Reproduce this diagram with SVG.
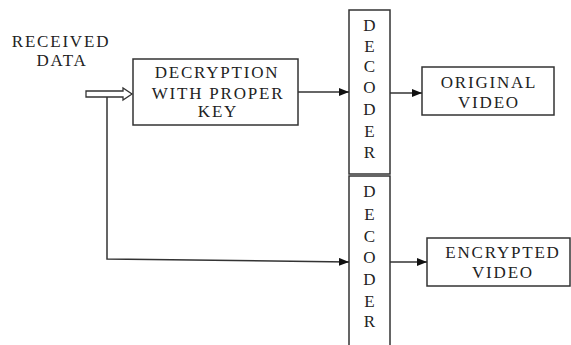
<svg xmlns="http://www.w3.org/2000/svg" width="571" height="345" viewBox="0 0 571 345">
<style>
.box{fill:#fff;stroke:#333;stroke-width:1.5}
.t{font-family:'Liberation Serif','Times New Roman',serif;font-size:17px;letter-spacing:1.8px;fill:#222;text-anchor:middle}
.l{font-family:'Liberation Serif','Times New Roman',serif;font-size:17px;fill:#222;text-anchor:middle}
.ln{fill:none;stroke:#333;stroke-width:1.5}
</style>
<defs>
<marker id="ah" markerWidth="10" markerHeight="8" refX="10" refY="4" orient="auto" markerUnits="userSpaceOnUse">
<path d="M0,0 L10,4 L0,8 Z" fill="#111"/>
</marker>
</defs>
<rect width="571" height="345" fill="#fff"/>
<g id="received-data">
<text class="t" x="61" y="47">RECEIVED</text>
<text class="t" x="62" y="66">DATA</text>
</g>
<g id="decryption">
<rect class="box" x="133" y="59" width="165" height="66"/>
<text class="t" x="217" y="78">DECRYPTION</text>
<text class="t" x="218" y="99">WITH PROPER</text>
<text class="t" x="218" y="117">KEY</text>
</g>
<g id="decoder1">
<rect class="box" x="349" y="10" width="41" height="164"/>
<text class="l" x="369.5" y="31">D</text>
<text class="l" x="369.5" y="52">E</text>
<text class="l" x="369.5" y="72">C</text>
<text class="l" x="369.5" y="93">O</text>
<text class="l" x="369.5" y="115">D</text>
<text class="l" x="369.5" y="137">E</text>
<text class="l" x="369.5" y="158">R</text>
</g>
<g id="decoder2">
<rect class="box" x="349" y="176" width="41" height="175"/>
<text class="l" x="369.5" y="197">D</text>
<text class="l" x="369.5" y="220">E</text>
<text class="l" x="369.5" y="242">C</text>
<text class="l" x="369.5" y="263">O</text>
<text class="l" x="369.5" y="285">D</text>
<text class="l" x="369.5" y="307">E</text>
<text class="l" x="369.5" y="327">R</text>
</g>
<g id="original-video">
<rect class="box" x="422" y="67" width="132" height="48"/>
<text class="t" x="489" y="88">ORIGINAL</text>
<text class="t" x="489" y="108">VIDEO</text>
</g>
<g id="encrypted-video">
<rect class="box" x="427" y="238" width="143" height="48"/>
<text class="t" x="503" y="258">ENCRYPTED</text>
<text class="t" x="503" y="278">VIDEO</text>
</g>
<g id="connectors">
<path d="M86,91 H123 V88 L132,94 L123,100 V97 H86 Z" fill="#fff" stroke="#333" stroke-width="1.3"/>
<path class="ln" d="M298,92 H349" marker-end="url(#ah)"/>
<path class="ln" d="M390,93 H422" marker-end="url(#ah)"/>
<path class="ln" d="M107,97 V259 L349,262" marker-end="url(#ah)"/>
<path class="ln" d="M390,262 H427" marker-end="url(#ah)"/>
</g>
</svg>
